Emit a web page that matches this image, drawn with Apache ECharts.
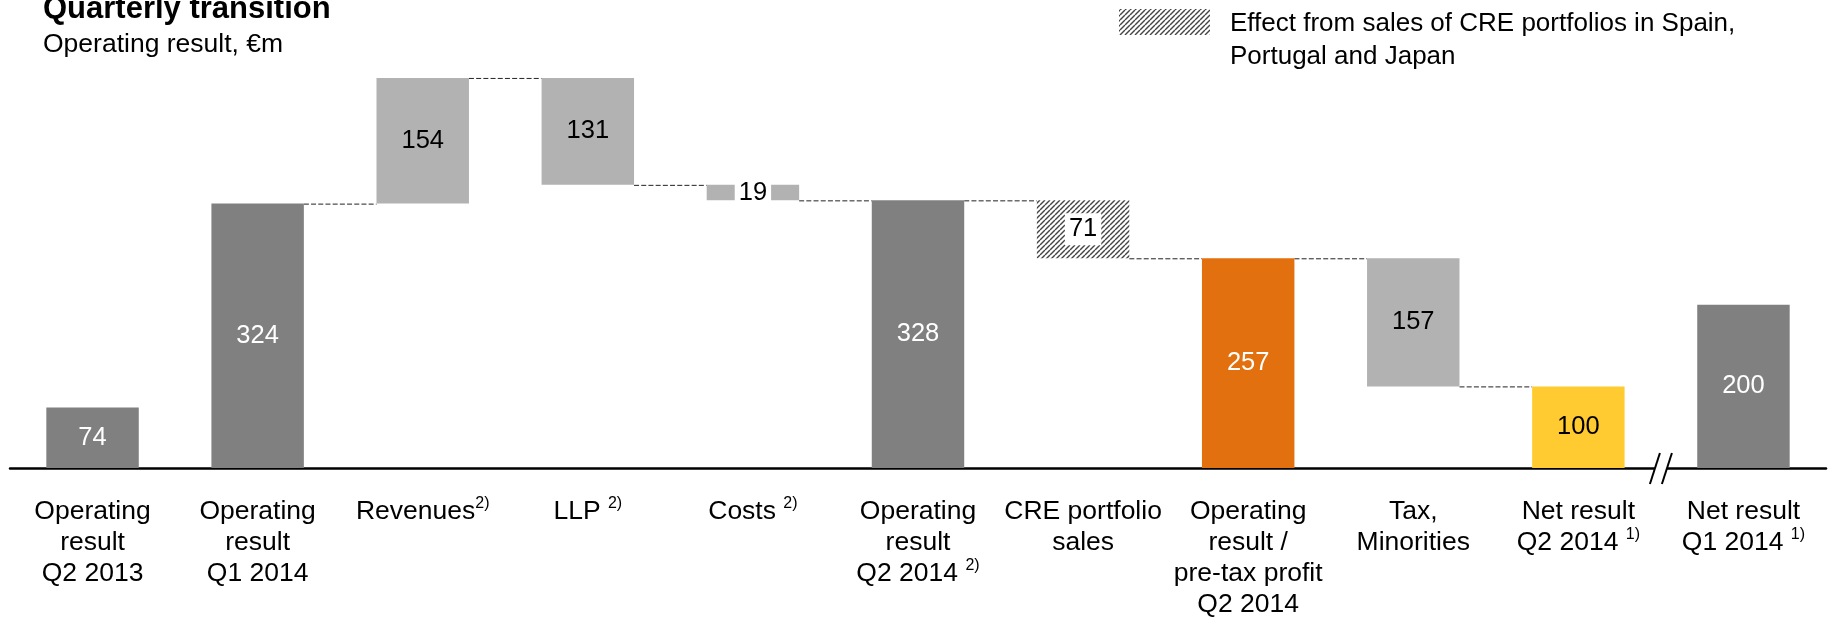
<!DOCTYPE html>
<html>
<head>
<meta charset="utf-8">
<script src="https://cdn.jsdelivr.net/npm/echarts@6/dist/echarts.min.js"></script>
<style>
html, body { margin: 0; padding: 0; background: #fff; }
#main { width: 1829px; height: 620px; }
</style>
</head>
<body>
<div id="main"></div>
<script>
// 数据
var categories = [
	'Operating\nresult\nQ2 2013',
	'Operating\nresult\nQ1 2014',
	'Revenues',
	'LLP',
	'Costs',
	'Operating\nresult\nQ2 2014',
	'CRE portfolio\nsales',
	'Operating\nresult /\npre-tax profit\nQ2 2014',
	'Tax,\nMinorities',
	'Net result\nQ2 2014',
	'Net result\nQ1 2014'
];
var notes = ['', '', '2)', '2)', '2)', '2)', '', '', '', '1)', '1)'];
var values = [74, 324, 154, -131, -19, 328, -71, 257, -157, 100, 200];
var kinds = ['total', 'total', 'delta', 'delta', 'delta', 'total', 'cre', 'pretax', 'delta', 'net', 'total'];
var legendText = 'Effect from sales of CRE portfolios in Spain,\nPortugal and Japan';

var FONT = '"Liberation Sans", Arial, sans-serif';
var BAR_WIDTH = 0.56;

// 斜线填充
function hatch() {
	var s = 5;
	var c = document.createElement('canvas');
	c.width = s;
	c.height = s;
	var g = c.getContext('2d');
	g.fillStyle = '#fff';
	g.fillRect(0, 0, s, s);
	g.strokeStyle = '#444';
	g.lineWidth = 1.4;
	for (var k = -1; k <= 1; k++) {
		g.beginPath();
		g.moveTo(k * s, s);
		g.lineTo(k * s + s, 0);
		g.stroke();
	}
	return { image: c, repeat: 'repeat' };
}

var hatchFill = hatch();
var styleOf = {
	total: { color: '#808080', text: '#fff' },
	delta: { color: '#b2b2b2', text: '#000' },
	cre: { color: hatchFill, text: '#000' },
	pretax: { color: '#e2700e', text: '#fff' },
	net: { color: '#ffcb31', text: '#000' }
};

function isDelta(k) {
	return k == 'delta' || k == 'cre';
}

// 计算瀑布图的底部和高度
var baseData = [];
var barData = [];
var ends = [];
var running = 0;
for (var i = 0; i < values.length; i++) {
	var v = values[i];
	var k = kinds[i];
	var st = styleOf[k];
	var base, size;
	if (isDelta(k)) {
		base = Math.min(running, running + v);
		size = Math.abs(v);
		running = running + v;
	} else {
		base = 0;
		size = v;
		running = v;
	}
	ends.push(running);
	baseData.push(base);
	var boxed = k == 'cre' || Math.abs(v) < 30;
	barData.push({
		value: size,
		itemStyle: { color: st.color },
		label: {
			color: st.text,
			backgroundColor: boxed ? '#fff' : 'transparent',
			padding: boxed ? [3, 4] : 0
		}
	});
}

// 连接线
var connectors = [];
for (var i = 0; i < values.length - 1; i++) {
	if (isDelta(kinds[i]) || isDelta(kinds[i + 1])) {
		connectors.push([i, ends[i]]);
	}
}

var chart = echarts.init(document.getElementById('main'));

var option = {
	animation: false,
	textStyle: { fontFamily: FONT },
	title: {
		left: 38,
		top: -11,
		itemGap: 6,
		text: 'Quarterly transition',
		subtext: 'Operating result, €m',
		textStyle: { fontFamily: FONT, fontSize: 31, fontWeight: 'bold', color: '#000' },
		subtextStyle: { fontFamily: FONT, fontSize: 26.5, color: '#000' }
	},
	grid: { left: 10, right: 3, top: 60, bottom: 150 },
	xAxis: {
		type: 'category',
		data: categories,
		axisLine: { lineStyle: { color: '#000', width: 2.5 } },
		axisTick: { show: false },
		axisLabel: {
			interval: 0,
			margin: 28,
			color: '#000',
			fontFamily: FONT,
			fontSize: 26.5,
			lineHeight: 31,
			formatter: function(val, idx) {
				if (!notes[idx]) return val;
				return val + (idx == 2 ? '' : ' ') + '{sup|' + notes[idx] + '}';
			},
			rich: {
				sup: { fontFamily: FONT, fontSize: 16, lineHeight: 17, verticalAlign: 'top', color: '#000' }
			}
		}
	},
	yAxis: { type: 'value', min: 0, max: 500, show: false },
	series: [
		{
			name: 'base',
			type: 'bar',
			stack: 'w',
			silent: true,
			barWidth: (BAR_WIDTH * 100) + '%',
			itemStyle: { color: 'transparent' },
			data: baseData
		},
		{
			name: 'value',
			type: 'bar',
			stack: 'w',
			barWidth: (BAR_WIDTH * 100) + '%',
			label: {
				show: true,
				position: 'inside',
				fontFamily: FONT,
				fontSize: 25.5,
				formatter: function(p) { return p.value; }
			},
			data: barData
		},
		{
			name: 'connectors',
			type: 'custom',
			silent: true,
			z: 1,
			encode: { x: 0, y: 1 },
			data: connectors,
			renderItem: function(params, api) {
				var p = api.coord([api.value(0), api.value(1)]);
				var band = api.size([1, 0])[0];
				var hw = band * BAR_WIDTH / 2;
				return {
					type: 'line',
					shape: { x1: p[0] + hw, y1: p[1] + 0.5, x2: p[0] + band - hw, y2: p[1] + 0.5 },
					style: { stroke: '#222', lineWidth: 1, lineDash: [5, 2.2] }
				};
			}
		}
	],
	graphic: [
		{
			id: 'legendBox',
			type: 'rect',
			shape: { x: 1119, y: 9, width: 91, height: 26 },
			style: { fill: hatchFill }
		},
		{
			id: 'legendText',
			type: 'text',
			x: 1230,
			y: 7.5,
			style: {
				text: legendText,
				fill: '#000',
				font: '26px ' + FONT,
				lineHeight: 33,
				verticalAlign: 'top'
			}
		}
	]
};
chart.setOption(option);

// 坐标轴断开标记
var y0 = chart.convertToPixel({ yAxisIndex: 0 }, 0);
var cx = (chart.convertToPixel({ xAxisIndex: 0 }, 9) + chart.convertToPixel({ xAxisIndex: 0 }, 10)) / 2;
chart.setOption({
	graphic: [
		{
			id: 'gap',
			type: 'rect',
			z: 10,
			shape: { x: cx - 6, y: y0 - 3, width: 12, height: 6 },
			style: { fill: '#fff' }
		},
		{
			id: 'slash1',
			type: 'line',
			z: 11,
			shape: { x1: cx - 11, y1: y0 + 16, x2: cx - 1, y2: y0 - 15 },
			style: { stroke: '#000', lineWidth: 2 }
		},
		{
			id: 'slash2',
			type: 'line',
			z: 11,
			shape: { x1: cx + 1, y1: y0 + 16, x2: cx + 11, y2: y0 - 15 },
			style: { stroke: '#000', lineWidth: 2 }
		}
	]
});
</script>
</body>
</html>
